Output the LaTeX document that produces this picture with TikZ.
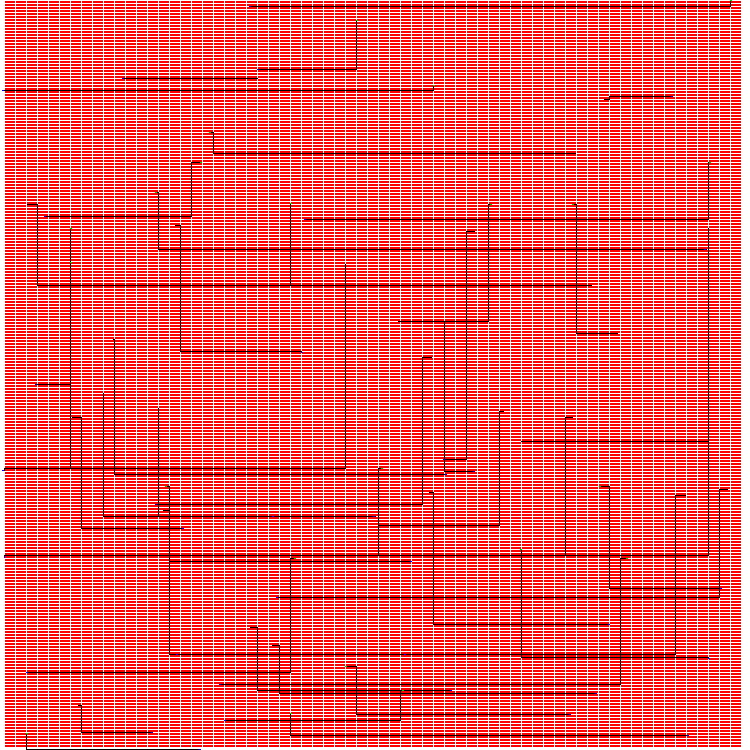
\documentclass[tikz,border=0pt]{standalone}
\usepackage{xcolor}
\tikzset{
  chip/.style    ={fill=red},
  gapline/.style ={white,line width=1.1bp},
  wire/.style    ={black,line width=1.25bp,line cap=rect,line join=miter},
  pinfrom/.style ={fill=green!85!black},
  pinto/.style   ={fill=blue},
}
\begin{document}
\begin{tikzpicture}[x=1bp,y=-1bp]
  \useasboundingbox (0,0) rectangle (750,750);
  % placement rows
  \fill[chip] (5,1) rectangle (741,747);
  \foreach \k in {1,...,66}{
     \draw[gapline] ({4.5+11*\k},1) -- ({4.5+11*\k},747);
  }
  \foreach \k in {1,...,248}{
     \draw[gapline] (5,{3*\k+0.5}) -- (741,{3*\k+0.5});
  }
  \begin{scope}[shift={(0.5,0.5)}]
  % routed nets
  \draw[wire] (250,6) -- (730,6) -- (730,1);
  \draw[wire] (356,21) -- (356,69) -- (257,69);
  \draw[wire] (123,78) -- (257,78);
  \draw[wire] (2,90) -- (433,90) -- (433,85);
  \draw[wire] (604,99) -- (609,99) -- (609,96) -- (672,96);
  \draw[wire] (210,132) -- (213,132) -- (213,153) -- (575,153);
  \draw[wire] (201,162) -- (191,162) -- (191,216) -- (44,216);
  \draw[wire] (156,192) -- (158,192) -- (158,249) -- (706,249);
  \draw[wire] (27,204) -- (37,204) -- (37,285) -- (591,285);
  \draw[wire] (70,228) -- (70,468);
  \draw[wire] (70,262) -- (70,384) -- (35,384);
  \draw[wire] (2,470) -- (4,470) -- (4,468) -- (345,468) -- (345,264);
  \draw[wire] (175,225) -- (180,225) -- (180,351) -- (301,351) -- (301,352);
  \draw[wire] (290,204) -- (290,285);
  \draw[wire] (304,219) -- (708,219) -- (708,162) -- (710,162);
  \draw[wire] (474,231) -- (466,231) -- (466,459) -- (443,459);
  \draw[wire] (491,204) -- (488,204) -- (488,321) -- (398,321);
  \draw[wire] (573,204) -- (576,204) -- (576,333) -- (617,333);
  \draw[wire] (4,557) -- (4,555) -- (708,555) -- (708,228);
  \draw[wire] (521,441) -- (708,441);
  \draw[wire] (572,417) -- (565,417) -- (565,555);
  \draw[wire] (503,411) -- (499,411) -- (499,525) -- (378,525);
  \draw[wire] (382,468) -- (378,468) -- (378,555);
  \draw[wire] (431,357) -- (422,357) -- (422,504) -- (155,504);
  \draw[wire] (437,321) -- (444,321) -- (444,471) -- (474,471);
  \draw[wire] (113,339) -- (114,339) -- (114,474) -- (446,474);
  \draw[wire] (103,393) -- (103,516) -- (375,516);
  \draw[wire] (158,408) -- (158,516) -- (272,516);
  \draw[wire] (72,417) -- (81,417) -- (81,528) -- (183,528);
  \draw[wire] (166,486) -- (169,486) -- (169,654) -- (405,654);
  \draw[wire] (163,510) -- (169,510) -- (169,561) -- (411,561);
  \draw[wire] (295,558) -- (290,558) -- (290,672) -- (26,672);
  \draw[wire] (727,489) -- (719,489) -- (719,597) -- (276,597);
  \draw[wire] (600,486) -- (609,486) -- (609,588) -- (721,588);
  \draw[wire] (685,495) -- (675,495) -- (675,654) -- (176,654);
  \draw[wire] (521,549) -- (521,657) -- (708,657) -- (708,658);
  \draw[wire] (429,492) -- (433,492) -- (433,624) -- (609,624);
  \draw[wire] (627,558) -- (620,558) -- (620,684) -- (219,684);
  \draw[wire] (250,627) -- (257,627) -- (257,690) -- (451,690);
  \draw[wire] (272,645) -- (279,645) -- (279,693) -- (596,693);
  \draw[wire] (346,666) -- (356,666) -- (356,714) -- (570,714);
  \draw[wire] (403,690) -- (400,690) -- (400,720) -- (224,720);
  \draw[wire] (290,714) -- (290,735) -- (688,735);
  \draw[wire] (78,705) -- (81,705) -- (81,732) -- (152,732);
  \draw[wire] (26,734) -- (26,749) -- (200,749);
  \end{scope}
  % pin ends
  \foreach \x/\y in {730/0,356/20,433/85,209/132,200/162,155/192,290/203,70/228,70/262,709/162,490/204,572/204,381/468,165/486,294/558,599/486,520/549,626/558,345/666,402/690,290/713,26/733}{
     \fill[pinfrom] (\x,\y) rectangle ++(2,1);
  }
  \foreach \x/\y in {249/6,257/69,122/78,671/96,44/216,704/249,301/352,35/384,155/504,272/516,373/516,182/528,410/561,26/672,473/471,445/474,608/624,176/654,404/654,708/658,276/597,219/684,450/690,595/693,569/714,224/720,687/735,151/732,199/749,720/588,304/219,443/459}{
     \fill[pinto] (\x,\y) rectangle ++(2,1);
  }
  \fill[pinto] (2,90) rectangle ++(2,1);
  \fill[pinto] (2,470) rectangle ++(2,1);
  \fill[pinto] (4,556) rectangle ++(1,2);
\end{tikzpicture}
\end{document}
